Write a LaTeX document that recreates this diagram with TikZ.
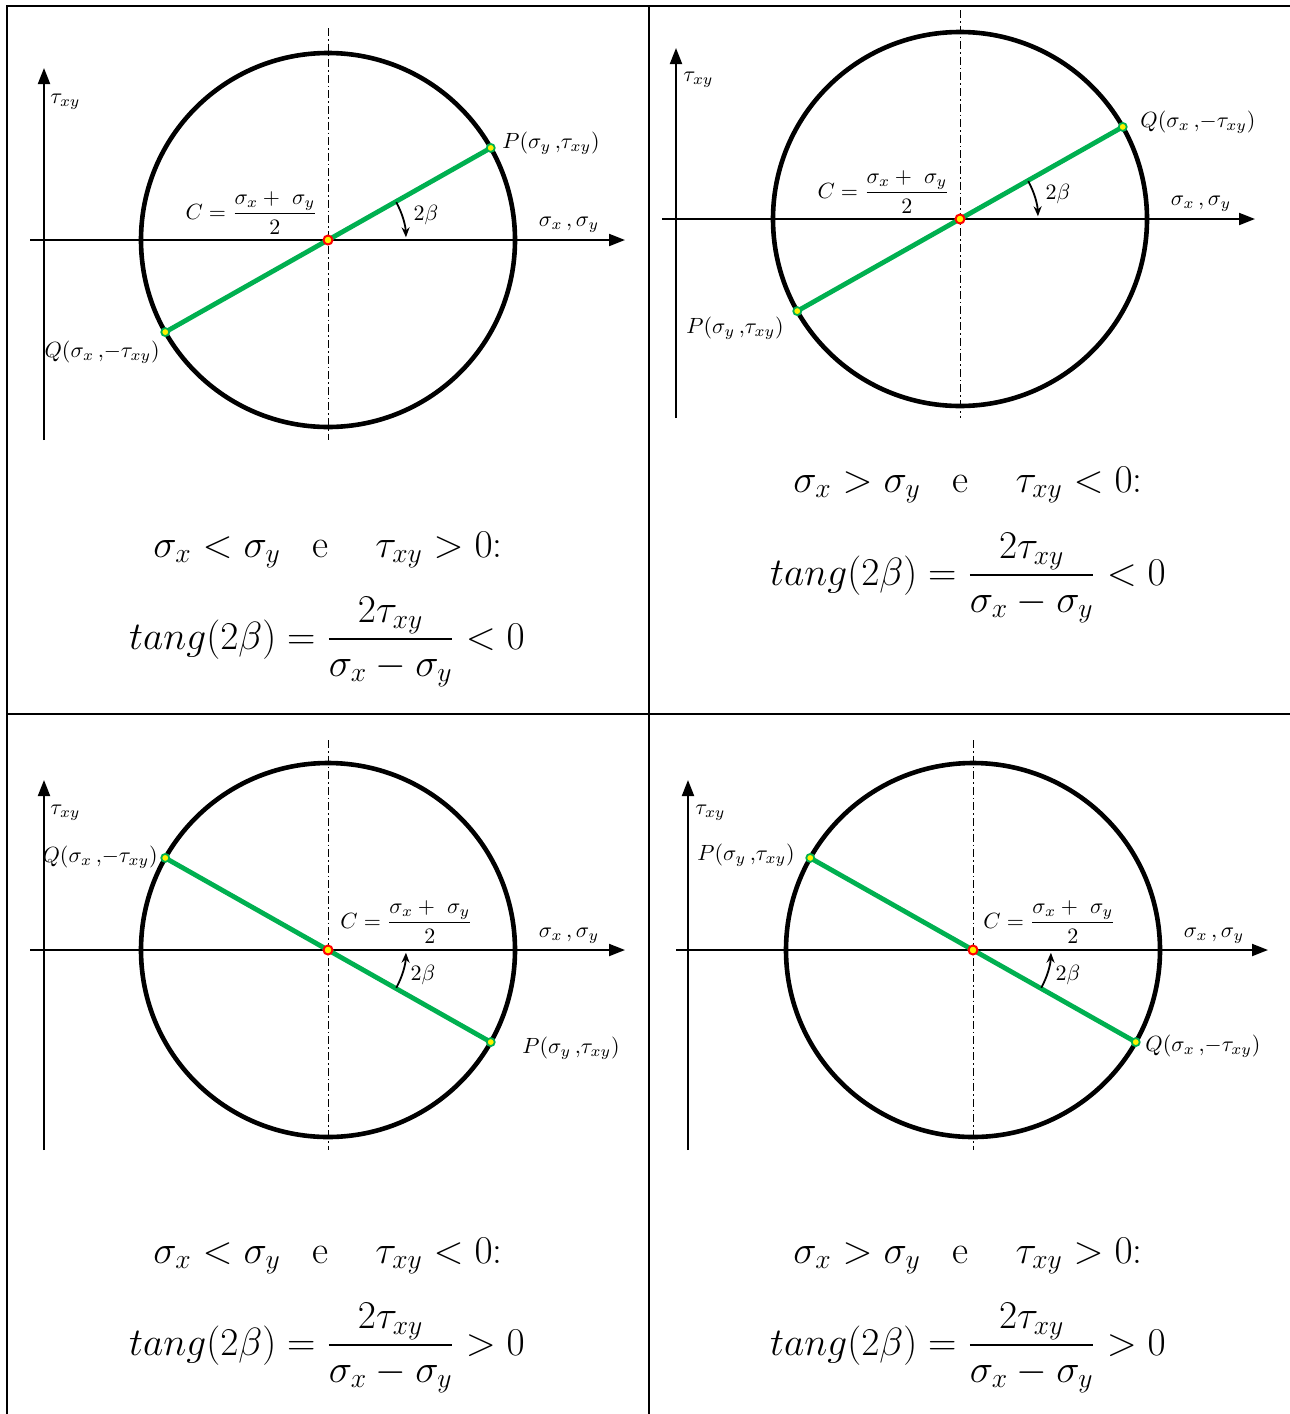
\RequirePackage{fix-cm}
\documentclass[tikz,border=0pt]{standalone}
\usepackage{amsmath}
\usetikzlibrary{arrows.meta,calc}
\definecolor{mgreen}{HTML}{00B050}
\tikzset{
  grid/.style={line width=1.3pt},
  axis/.style={line width=1pt,-{Triangle[length=8pt,width=6pt]}},
  cline/.style={line width=0.45pt,dash pattern=on 4pt off 1.5pt on 0.8pt off 1.5pt},
  circ/.style={line width=2.3pt},
  diam/.style={line width=2.4pt,draw=mgreen},
  cdot/.style={circle,draw=red,fill=yellow,line width=1pt,minimum size=4.5pt,inner sep=0pt},
  pdot/.style={circle,draw=mgreen,fill=yellow,line width=0.9pt,minimum size=4pt,inner sep=0pt},
  barc/.style={line width=0.9pt,-{Stealth[length=5pt,width=4pt]}},
  lbl/.style={font=\fontsize{11}{13}\selectfont,inner sep=1pt},
  big/.style={font=\fontsize{19.7}{24}\selectfont,inner sep=0pt},
}
\newcommand{\condA}[2]{$\sigma_x #1 \sigma_y\hspace{0.8em}\mathrm{e}\hspace{1.2em}\tau_{xy} #2 0$:}
\newcommand{\tangf}[1]{$\displaystyle tang(2\beta)=\frac{2\tau_{xy}}{\sigma_x-\sigma_y}#1 0$}
\newcommand{\Plab}{$P\mathopen{}\left(\sigma_y\,{,}\tau_{xy}\right)$}
\newcommand{\Qlab}{$Q\mathopen{}\left(\sigma_x\,{,}{-}\tau_{xy}\right)$}
\newcommand{\Clab}{$C=\dfrac{\sigma_x+\ \sigma_y}{2}$}
\begin{document}
\begin{tikzpicture}[x=0.5pt,y=0.5pt]
\useasboundingbox (0,0) rectangle (1290,-1414);
% table
\draw[grid] (7,-1414) -- (7,-6) -- (1290,-6);
\draw[grid] (649,-6) -- (649,-1414);
\draw[grid] (7,-714) -- (1290,-714);

% ---------- panel 1
\begin{scope}[shift={(328,-240)}]
 \coordinate (h1a) at (-298,0); \coordinate (h1b) at (297,0);
 \coordinate (v1a) at (-284,-200); \coordinate (v1b) at (-284,172);
 \coordinate (d1a) at (0,212); \coordinate (d1b) at (0,-200);
 \coordinate (P1) at (29.5:187); \coordinate (Q1) at (209.5:187);
 \draw[cline] (d1a) -- (d1b);
 \draw[axis] (h1a) -- (h1b);
 \draw[axis] (v1a) -- (v1b);
 \draw[circ] (0,0) circle[radius=187];
 \draw[diam] (P1) -- (Q1);
 \node[pdot] (Pd1) at (P1) {}; \node[pdot] (Qd1) at (Q1) {};
 \node[cdot] (C1) at (0,0) {};
 \draw[barc] (29:78) arc[start angle=29,end angle=2,radius=78];
 \node[lbl] (b1) at (98,25) {$2\beta$};
 \node[lbl,anchor=east] (c1) at (-8,27) {\Clab};
 \node[lbl] (s1) at (241,15) {$\sigma_x\,,\sigma_y$};
 \node[lbl,anchor=west] (t1) at (-280,138) {$\tau_{xy}$};
 \node[lbl,anchor=west] (pl1) at (172,97) {\Plab};
 \node[lbl,anchor=east] (ql1) at (-166,-112) {\Qlab};
\end{scope}
\node[big] (f1a) at (328,-550) {\condA{<}{>}};
\node[big] (f1b) at (327,-642) {\tangf{<}};

% ---------- panel 2
\begin{scope}[shift={(960,-219)}]
 \coordinate (h2a) at (-298,0); \coordinate (h2b) at (295,0);
 \coordinate (v2a) at (-284,-199); \coordinate (v2b) at (-284,171);
 \coordinate (d2a) at (0,209); \coordinate (d2b) at (0,-199);
 \coordinate (Q2) at (29.5:187); \coordinate (P2) at (209.5:187);
 \draw[cline] (d2a) -- (d2b);
 \draw[axis] (h2a) -- (h2b);
 \draw[axis] (v2a) -- (v2b);
 \draw[circ] (0,0) circle[radius=187];
 \draw[diam] (P2) -- (Q2);
 \node[pdot] (Pd2) at (P2) {}; \node[pdot] (Qd2) at (Q2) {};
 \node[cdot] (C2) at (0,0) {};
 \draw[barc] (29:78) arc[start angle=29,end angle=2,radius=78];
 \node[lbl] (b2) at (98,25) {$2\beta$};
 \node[lbl,anchor=east] (c2) at (-8,27) {\Clab};
 \node[lbl] (s2) at (241,15) {$\sigma_x\,,\sigma_y$};
 \node[lbl,anchor=west] (t2) at (-279,139) {$\tau_{xy}$};
 \node[lbl,anchor=west] (ql2) at (178,97) {\Qlab};
 \node[lbl,anchor=east] (pl2) at (-174,-109) {\Plab};
\end{scope}
\node[big] (f2a) at (968,-485) {\condA{>}{<}};
\node[big] (f2b) at (968,-578) {\tangf{<}};

% ---------- panel 3
\begin{scope}[shift={(328,-950)}]
 \coordinate (h3a) at (-298,0); \coordinate (h3b) at (297,0);
 \coordinate (v3a) at (-284,-200); \coordinate (v3b) at (-284,170);
 \coordinate (d3a) at (0,210); \coordinate (d3b) at (0,-200);
 \coordinate (Q3) at (150.5:187); \coordinate (P3) at (-29.5:187);
 \draw[cline] (d3a) -- (d3b);
 \draw[axis] (h3a) -- (h3b);
 \draw[axis] (v3a) -- (v3b);
 \draw[circ] (0,0) circle[radius=187];
 \draw[diam] (P3) -- (Q3);
 \node[pdot] (Pd3) at (P3) {}; \node[pdot] (Qd3) at (Q3) {};
 \node[cdot] (C3) at (0,0) {};
 \draw[barc] (-29:78) arc[start angle=-29,end angle=-2,radius=78];
 \node[lbl] (b3) at (95,-25) {$2\beta$};
 \node[lbl,anchor=west] (c3) at (10,28) {\Clab};
 \node[lbl] (s3) at (241,14) {$\sigma_x\,,\sigma_y$};
 \node[lbl,anchor=west] (t3) at (-280,137) {$\tau_{xy}$};
 \node[lbl,anchor=east] (ql3) at (-168,93) {\Qlab};
 \node[lbl,anchor=west] (pl3) at (192,-98) {\Plab};
\end{scope}
\node[big] (f3a) at (328,-1256) {\condA{<}{<}};
\node[big] (f3b) at (327,-1348) {\tangf{>}};

% ---------- panel 4
\begin{scope}[shift={(973,-950)}]
 \coordinate (h4a) at (-297,0); \coordinate (h4b) at (295,0);
 \coordinate (v4a) at (-285,-200); \coordinate (v4b) at (-285,170);
 \coordinate (d4a) at (0,210); \coordinate (d4b) at (0,-200);
 \coordinate (P4) at (150.5:187); \coordinate (Q4) at (-29.5:187);
 \draw[cline] (d4a) -- (d4b);
 \draw[axis] (h4a) -- (h4b);
 \draw[axis] (v4a) -- (v4b);
 \draw[circ] (0,0) circle[radius=187];
 \draw[diam] (P4) -- (Q4);
 \node[pdot] (Pd4) at (P4) {}; \node[pdot] (Qd4) at (Q4) {};
 \node[cdot] (C4) at (0,0) {};
 \draw[barc] (-29:78) arc[start angle=-29,end angle=-2,radius=78];
 \node[lbl] (b4) at (95,-25) {$2\beta$};
 \node[lbl,anchor=west] (c4) at (8,28) {\Clab};
 \node[lbl] (s4) at (241,14) {$\sigma_x\,,\sigma_y$};
 \node[lbl,anchor=west] (t4) at (-280,137) {$\tau_{xy}$};
 \node[lbl,anchor=east] (pl4) at (-176,95) {\Plab};
 \node[lbl,anchor=west] (ql4) at (170,-96) {\Qlab};
\end{scope}
\node[big] (f4a) at (968,-1256) {\condA{>}{>}};
\node[big] (f4b) at (968,-1348) {\tangf{>}};
\end{tikzpicture}
\end{document}
